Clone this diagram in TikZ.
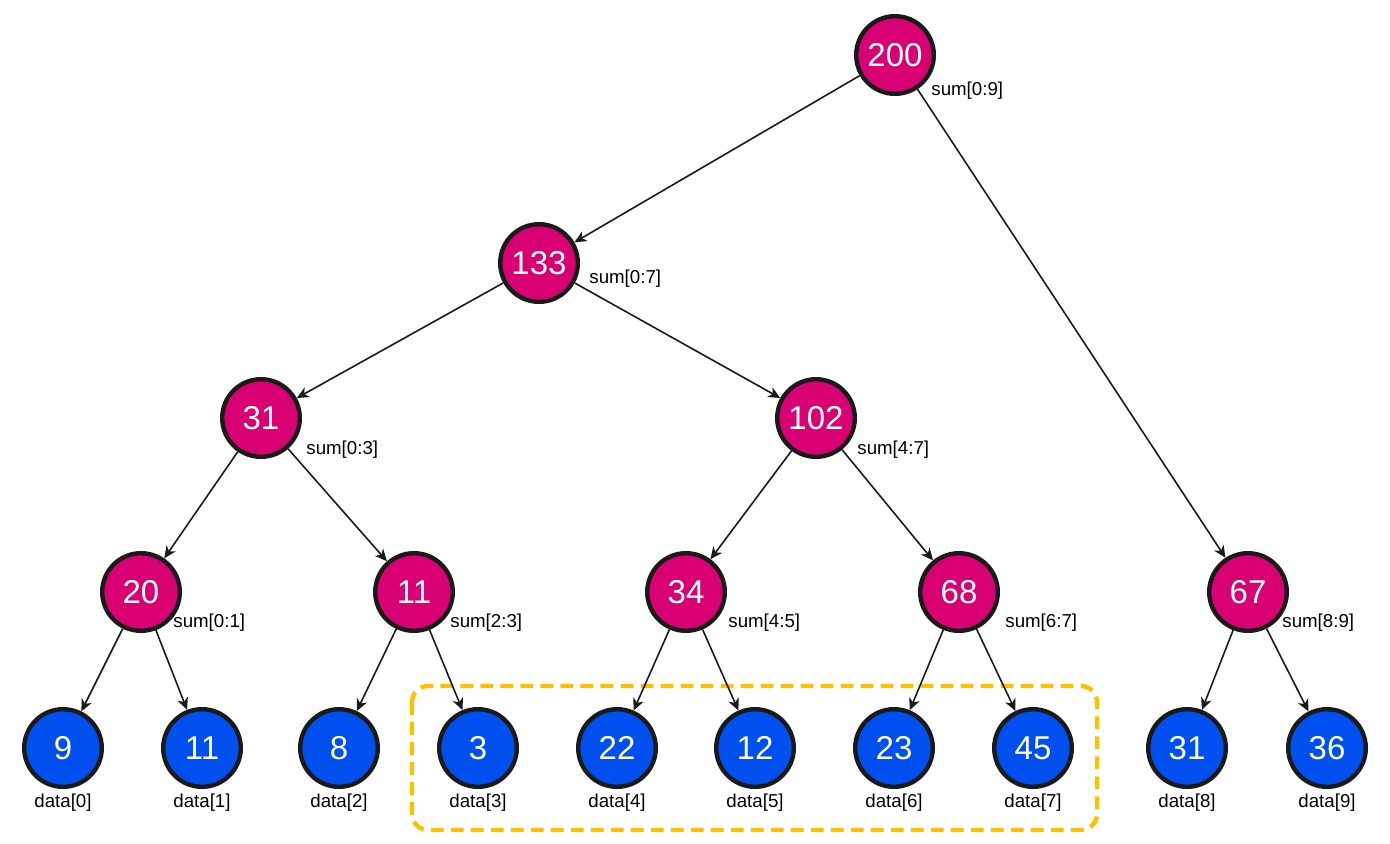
\documentclass[tikz,border=0pt]{standalone}
\usepackage{fontspec}
\setmainfont{Liberation Sans}
\usetikzlibrary{arrows.meta}
\definecolor{sumfill}{HTML}{D80073}
\definecolor{datafill}{HTML}{0050EF}
\definecolor{ringcol}{HTML}{1A1A1A}
\definecolor{boxcol}{HTML}{FFC000}
\tikzset{
  ball/.style={circle, draw=ringcol, line width=2.2pt, minimum size=38.8pt, inner sep=0pt,
    text=white, font=\fontsize{16.5}{18}\selectfont},
  sumball/.style={ball, fill=sumfill},
  databall/.style={ball, fill=datafill},
  sumlabel/.style={anchor=west, inner sep=0pt, font=\fontsize{9.35}{11}\selectfont},
  datalabel/.style={anchor=center, inner sep=0pt, font=\fontsize{9.35}{11}\selectfont},
  link/.style={draw=ringcol, line width=0.8pt, -{Stealth[length=6pt, width=5.5pt, inset=1.8pt]}},
  groupbox/.style={draw=boxcol, line width=2.2pt, rounded corners=8pt, dash pattern=on 6.4pt off 3.6pt}
}
\begin{document}
\begin{tikzpicture}[x=0.5pt, y=-0.5pt]
\useasboundingbox (0,0) rectangle (1390,843);

% dashed group
\draw[groupbox] (412,686) rectangle (1097,830);

% internal nodes
\node[sumball] (r)   at (895,55)  {200};
\node[sumball] (a)   at (539,263) {133};
\node[sumball] (b)   at (261,418) {31};
\node[sumball] (c)   at (816,418) {102};
\node[sumball] (d)   at (141,592) {20};
\node[sumball] (e)   at (414,592) {11};
\node[sumball] (f)   at (686,592) {34};
\node[sumball] (g)   at (959,592) {68};
\node[sumball] (h)   at (1248,592) {67};

% leaves
\node[databall] (l0) at (63,748)   {9};
\node[databall] (l1) at (202,748)  {11};
\node[databall] (l2) at (339,748)  {8};
\node[databall] (l3) at (478,748)  {3};
\node[databall] (l4) at (617,748)  {22};
\node[databall] (l5) at (755,748)  {12};
\node[databall] (l6) at (894,748)  {23};
\node[databall] (l7) at (1033,748) {45};
\node[databall] (l8) at (1187,748) {31};
\node[databall] (l9) at (1327,748) {36};

% sum labels
\node[sumlabel] (sr) at (931,91)  {sum[0:9]};
\node[sumlabel] (sa) at (589,279) {sum[0:7]};
\node[sumlabel] (sb) at (306,450) {sum[0:3]};
\node[sumlabel] (sc) at (857,450) {sum[4:7]};
\node[sumlabel] (sd) at (173,623) {sum[0:1]};
\node[sumlabel] (se) at (450,623) {sum[2:3]};
\node[sumlabel] (sf) at (728,623) {sum[4:5]};
\node[sumlabel] (sg) at (1005,623) {sum[6:7]};
\node[sumlabel] (sh) at (1282,623) {sum[8:9]};

% data labels
\node[datalabel] (t0) at (63,803)   {data[0]};
\node[datalabel] (t1) at (202,803)  {data[1]};
\node[datalabel] (t2) at (339,803)  {data[2]};
\node[datalabel] (t3) at (478,803)  {data[3]};
\node[datalabel] (t4) at (617,803)  {data[4]};
\node[datalabel] (t5) at (755,803)  {data[5]};
\node[datalabel] (t6) at (894,803)  {data[6]};
\node[datalabel] (t7) at (1033,803) {data[7]};
\node[datalabel] (t8) at (1187,803) {data[8]};
\node[datalabel] (t9) at (1327,803) {data[9]};

% connectors
\draw[link] (r) -- (a);
\draw[link] (r) -- (h);
\draw[link] (a) -- (b);
\draw[link] (a) -- (c);
\draw[link] (b) -- (d);
\draw[link] (b) -- (e);
\draw[link] (c) -- (f);
\draw[link] (c) -- (g);
\draw[link] (d) -- (l0);
\draw[link] (d) -- (l1);
\draw[link] (e) -- (l2);
\draw[link] (e) -- (l3);
\draw[link] (f) -- (l4);
\draw[link] (f) -- (l5);
\draw[link] (g) -- (l6);
\draw[link] (g) -- (l7);
\draw[link] (h) -- (l8);
\draw[link] (h) -- (l9);
\end{tikzpicture}
\end{document}
